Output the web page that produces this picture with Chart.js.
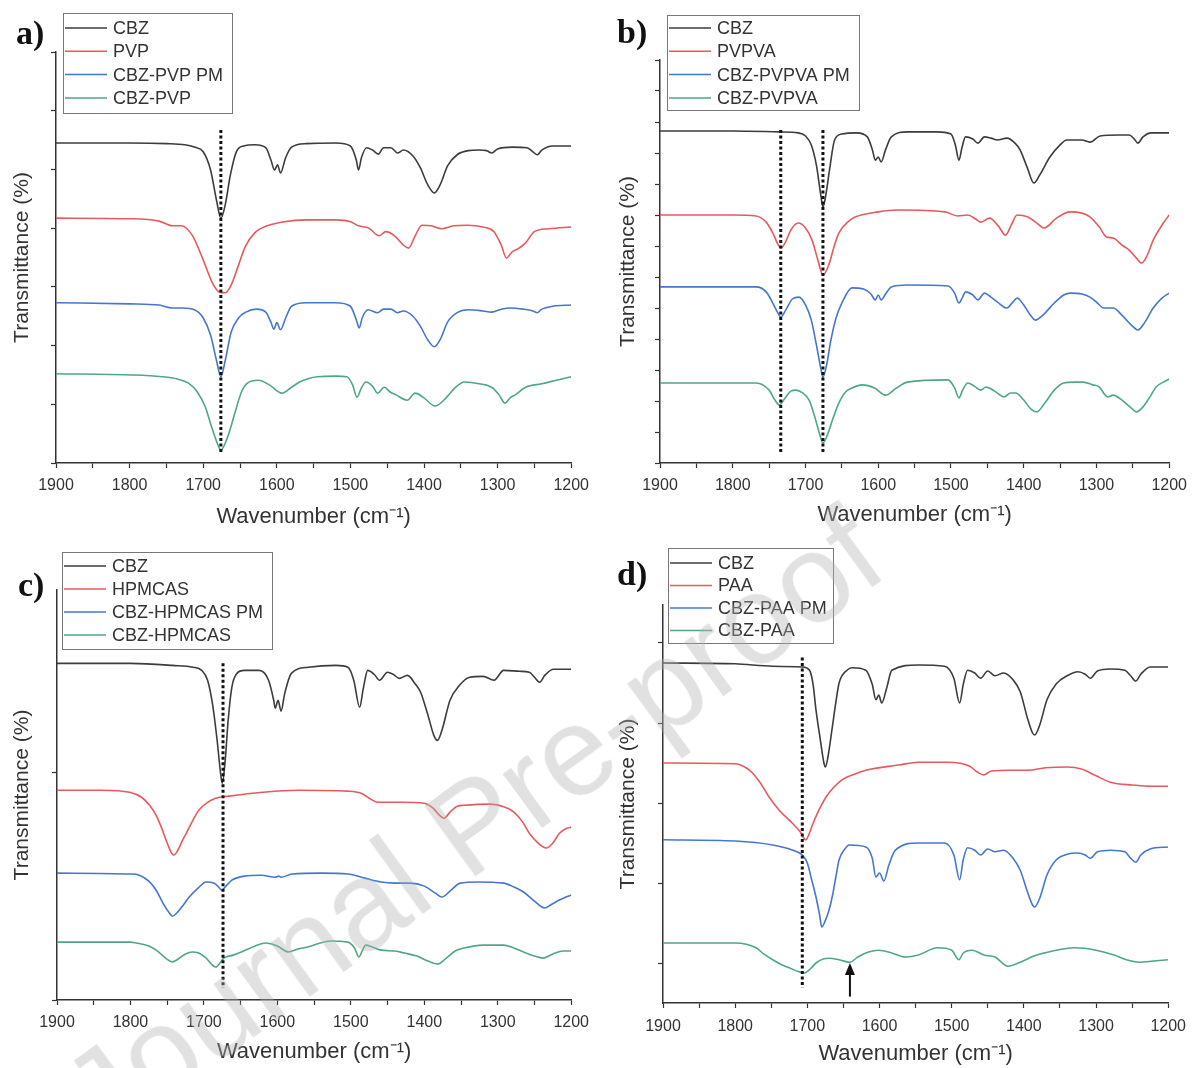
<!DOCTYPE html>
<html lang="en">
<head>
    <meta charset="UTF-8">
    <title>FTIR spectra - CBZ dispersions</title>
    <script src="https://cdn.jsdelivr.net/npm/chart.js"></script>
    <style>
        * {
            margin: 0;
            padding: 0;
            box-sizing: border-box;
        }
        body {
            background: #fff;
            width: 1195px;
            height: 1068px;
            overflow: hidden;
        }
        #wrap {
            position: relative;
            width: 1195px;
            height: 1068px;
        }
        canvas {
            position: absolute;
        }
        .mark {
            position: absolute;
            left: 473px;
            top: 825px;
            transform: translate(-50%, -50%) rotate(-36deg);
            font-family: 'Liberation Sans', Arial, sans-serif;
            font-size: 126px;
            line-height: 1;
            color: rgba(175, 175, 175, 0.38);
            white-space: nowrap;
            pointer-events: none;
        }
    </style>
</head>
<body>
<div id="wrap">
    <canvas id="pa" width="597" height="534" style="left:0;top:0"></canvas>
    <canvas id="pb" width="598" height="534" style="left:597px;top:0"></canvas>
    <canvas id="pc" width="597" height="534" style="left:0;top:534px"></canvas>
    <canvas id="pd" width="598" height="534" style="left:597px;top:534px"></canvas>
    <div class="mark">Journal Pre-proof</div>
</div>

<script>
// ---- data: [wavenumber, transmittance (a.u., offset)] ----
const namesA = ['CBZ', 'PVP', 'CBZ-PVP PM', 'CBZ-PVP'];
const namesB = ['CBZ', 'PVPVA', 'CBZ-PVPVA PM', 'CBZ-PVPVA'];
const namesC = ['CBZ', 'HPMCAS', 'CBZ-HPMCAS PM', 'CBZ-HPMCAS'];
const namesD = ['CBZ', 'PAA', 'CBZ-PAA PM', 'CBZ-PAA'];

// a) PVP
const aCBZ = [[1900,54.5],[1800,54.5],[1750,54.4],[1725,54.2],[1712,53.8],[1700,53.0],[1690,49.9],[1682,44.8],[1676,41.7],[1670,44.0],[1663,49.1],[1655,53.0],[1645,54.0],[1630,54.2],[1615,53.7],[1608,51.6],[1603,49.9],[1599,50.8],[1595,49.4],[1588,52.0],[1580,53.8],[1560,54.4],[1520,54.5],[1500,54.0],[1492,51.6],[1489,49.9],[1485,52.0],[1478,53.7],[1470,53.3],[1462,52.6],[1455,53.7],[1445,53.7],[1436,52.8],[1428,53.3],[1415,52.3],[1405,50.3],[1395,47.4],[1386,46.0],[1378,47.4],[1368,50.6],[1355,52.5],[1340,53.2],[1325,53.3],[1315,53.2],[1308,52.8],[1300,53.5],[1280,53.8],[1260,53.7],[1252,53.0],[1246,52.5],[1240,53.3],[1225,54.0],[1200,54.0]];
const aPVP = [[1900,41.7],[1800,41.6],[1760,41.2],[1742,40.4],[1730,40.4],[1715,38.8],[1700,34.6],[1688,30.8],[1678,29.1],[1670,29.0],[1662,30.3],[1652,33.7],[1643,36.8],[1630,39.2],[1613,40.4],[1590,41.1],[1560,41.4],[1520,41.4],[1500,41.1],[1489,40.4],[1475,40.0],[1461,38.7],[1452,39.4],[1440,38.7],[1428,37.1],[1421,36.6],[1412,38.7],[1403,40.5],[1390,40.4],[1376,39.9],[1360,40.4],[1341,40.5],[1320,40.2],[1305,39.4],[1295,37.1],[1288,34.9],[1280,36.0],[1272,36.5],[1262,37.5],[1250,39.4],[1230,39.9],[1200,40.2]];
const aPM = [[1900,27.3],[1800,27.1],[1760,26.9],[1742,26.4],[1728,26.4],[1712,26.1],[1700,24.7],[1690,21.8],[1682,17.5],[1676,14.7],[1670,17.5],[1662,22.3],[1652,24.7],[1642,25.7],[1628,26.2],[1615,25.7],[1608,24.0],[1604,22.8],[1600,23.9],[1595,22.7],[1588,24.7],[1580,26.7],[1560,27.3],[1520,27.3],[1500,26.7],[1492,24.4],[1488,23.0],[1484,24.7],[1476,26.1],[1463,25.6],[1455,26.2],[1445,26.2],[1436,25.6],[1428,25.9],[1415,25.0],[1405,23.3],[1395,21.0],[1386,19.8],[1378,21.0],[1368,24.0],[1355,25.6],[1340,26.1],[1320,25.9],[1308,25.7],[1295,26.2],[1282,26.4],[1265,26.2],[1252,25.9],[1246,25.6],[1240,26.2],[1225,26.7],[1200,26.9]];
const aSD = [[1900,15.2],[1800,15.0],[1756,14.7],[1735,14.3],[1720,13.6],[1708,12.1],[1697,9.5],[1688,5.9],[1680,3.1],[1676,2.2],[1670,3.4],[1663,5.9],[1657,8.5],[1648,12.1],[1640,13.6],[1625,14.1],[1610,13.3],[1593,11.9],[1580,12.9],[1569,13.8],[1545,14.7],[1520,14.8],[1505,14.7],[1497,13.3],[1491,11.2],[1485,12.8],[1479,13.8],[1470,13.1],[1463,11.9],[1454,12.9],[1446,12.1],[1438,11.6],[1423,10.7],[1412,11.9],[1400,11.1],[1385,9.7],[1370,11.1],[1358,12.8],[1345,13.8],[1325,13.5],[1308,12.9],[1298,11.6],[1290,10.2],[1283,11.1],[1276,11.6],[1262,12.9],[1240,13.5],[1220,14.1],[1200,14.7]];
const aGuides = [1676];
const aSpan = [56.7, 1.7];

// b) PVPVA
const bCBZ = [[1900,107.1],[1800,107.1],[1736,106.8],[1710,106.5],[1700,105.5],[1692,102.6],[1685,96.1],[1679,86.5],[1676,82.6],[1672,86.5],[1667,94.5],[1660,104.2],[1650,106.1],[1630,106.5],[1615,105.2],[1608,101.0],[1604,97.7],[1600,98.7],[1596,97.1],[1590,101.0],[1582,105.2],[1560,106.8],[1520,106.8],[1500,106.1],[1494,102.6],[1489,97.7],[1485,101.6],[1480,105.2],[1470,104.5],[1463,103.2],[1454,105.2],[1445,104.8],[1436,104.2],[1423,104.8],[1412,103.2],[1405,101.0],[1395,95.2],[1386,90.3],[1378,92.9],[1364,98.7],[1350,102.6],[1341,104.2],[1320,104.2],[1309,103.5],[1295,105.5],[1270,105.8],[1255,105.8],[1248,104.5],[1243,103.2],[1236,105.2],[1225,106.5],[1200,106.5]];
const bPVPVA = [[1900,80.0],[1800,80.0],[1768,79.7],[1754,77.7],[1745,74.2],[1738,70.6],[1734,69.4],[1728,71.0],[1720,75.2],[1710,77.4],[1700,75.8],[1691,71.9],[1683,65.5],[1676,60.6],[1668,63.9],[1660,70.3],[1654,74.2],[1640,78.1],[1631,79.4],[1600,81.0],[1573,81.6],[1508,81.0],[1491,79.7],[1477,80.0],[1466,78.7],[1459,77.7],[1447,79.0],[1435,76.5],[1425,73.5],[1417,76.8],[1409,80.0],[1395,79.4],[1382,77.4],[1372,75.8],[1355,79.0],[1336,81.0],[1320,80.6],[1309,79.4],[1296,76.1],[1286,72.9],[1277,72.6],[1265,70.3],[1255,68.7],[1245,66.1],[1238,64.5],[1230,67.1],[1222,71.9],[1208,77.4],[1200,80.0]];
const bPM = [[1900,56.8],[1800,56.8],[1768,56.8],[1754,55.2],[1745,51.6],[1738,48.4],[1734,47.1],[1727,49.4],[1718,52.9],[1709,53.5],[1700,51.0],[1692,46.1],[1685,38.1],[1679,30.6],[1676,27.7],[1671,31.6],[1665,39.7],[1658,46.8],[1650,51.6],[1636,56.5],[1620,56.1],[1610,54.5],[1604,52.6],[1600,54.2],[1596,52.6],[1590,54.5],[1582,56.8],[1560,57.4],[1504,57.1],[1495,54.8],[1489,51.6],[1484,53.5],[1480,55.2],[1470,54.2],[1463,52.6],[1454,54.8],[1445,53.5],[1436,51.9],[1423,50.0],[1415,51.9],[1409,53.2],[1400,51.0],[1392,48.1],[1384,46.1],[1375,47.4],[1358,51.6],[1345,54.2],[1336,54.8],[1320,54.5],[1309,53.5],[1300,51.9],[1290,50.0],[1277,50.0],[1265,47.7],[1252,44.5],[1243,42.9],[1234,45.2],[1222,50.0],[1210,53.2],[1200,54.8]];
const bSD = [[1900,25.8],[1800,25.8],[1768,25.8],[1750,23.5],[1742,20.3],[1736,18.7],[1728,21.0],[1720,23.2],[1713,23.5],[1704,22.6],[1695,20.3],[1688,15.5],[1681,9.7],[1676,6.5],[1670,9.0],[1662,14.5],[1654,19.4],[1645,22.9],[1636,24.2],[1622,25.2],[1605,24.2],[1590,21.9],[1575,24.2],[1560,26.1],[1504,26.8],[1495,24.2],[1489,21.0],[1484,23.5],[1477,25.8],[1468,24.8],[1459,23.5],[1452,24.5],[1440,23.2],[1427,21.3],[1418,22.6],[1411,22.6],[1400,20.3],[1390,17.4],[1382,16.5],[1372,19.0],[1358,23.5],[1345,25.8],[1330,26.1],[1318,26.1],[1305,25.2],[1296,24.5],[1288,21.9],[1284,21.3],[1277,21.9],[1265,20.3],[1252,17.7],[1245,16.5],[1236,18.1],[1225,21.9],[1218,24.5],[1208,26.1],[1200,27.1]];
const bGuides = [1734, 1676];
const bSpan = [107.4, 3.2];

// c) HPMCAS
const cCBZ = [[1900,147.8],[1800,147.8],[1743,146.9],[1715,146.1],[1703,144.7],[1695,140.4],[1688,129.4],[1682,114.0],[1677,98.7],[1675,95.2],[1671,105.3],[1667,122.8],[1662,137.3],[1655,143.4],[1645,144.7],[1625,144.7],[1612,140.4],[1605,131.6],[1603,128.1],[1599,131.6],[1595,126.8],[1590,134.6],[1581,143.4],[1558,146.1],[1520,146.9],[1504,146.1],[1496,140.4],[1488,128.5],[1483,136.8],[1477,144.7],[1468,142.9],[1461,140.4],[1450,143.9],[1442,142.9],[1434,141.2],[1423,142.5],[1412,138.6],[1405,135.1],[1395,125.0],[1387,116.2],[1382,114.0],[1376,118.4],[1365,131.6],[1352,138.2],[1338,141.7],[1320,142.1],[1305,140.4],[1292,144.7],[1270,144.3],[1257,143.9],[1250,141.7],[1243,139.5],[1236,142.5],[1224,145.2],[1200,145.2]];
const cHPMCAS = [[1900,92.1],[1840,92.1],[1801,91.2],[1785,89.0],[1774,85.5],[1765,81.1],[1758,75.9],[1750,68.9],[1744,64.5],[1741,63.6],[1736,65.4],[1729,70.2],[1724,73.2],[1715,78.9],[1707,83.3],[1695,86.8],[1684,88.6],[1666,89.5],[1620,91.2],[1572,92.1],[1504,91.7],[1486,90.8],[1475,88.6],[1464,86.8],[1445,86.8],[1432,86.8],[1400,86.4],[1388,84.2],[1378,80.7],[1373,79.8],[1365,82.5],[1355,85.1],[1346,85.5],[1311,86.0],[1290,84.6],[1278,82.5],[1266,78.1],[1257,73.2],[1245,68.9],[1234,66.7],[1225,68.9],[1216,73.2],[1206,75.4],[1200,75.9]];
const cPM = [[1900,55.7],[1800,55.3],[1788,54.8],[1775,52.2],[1765,48.2],[1755,42.1],[1747,38.2],[1743,36.8],[1737,38.2],[1728,41.7],[1720,45.2],[1708,49.1],[1697,51.8],[1686,51.3],[1680,49.6],[1676,48.2],[1670,50.0],[1662,52.6],[1645,54.4],[1622,54.8],[1603,53.9],[1598,54.4],[1595,53.9],[1580,55.3],[1540,55.7],[1504,55.3],[1481,53.5],[1459,51.8],[1440,51.3],[1419,51.3],[1400,50.0],[1385,46.9],[1376,45.2],[1365,47.8],[1351,51.3],[1328,51.8],[1292,51.3],[1278,49.6],[1265,47.4],[1250,43.4],[1240,40.8],[1236,40.4],[1228,41.7],[1216,43.9],[1200,46.1]];
const cSD = [[1900,25.4],[1800,25.4],[1792,25.0],[1775,23.7],[1765,21.9],[1752,18.4],[1743,16.7],[1735,18.0],[1725,20.2],[1716,21.1],[1707,20.6],[1697,18.4],[1690,15.8],[1684,14.5],[1677,16.7],[1673,18.4],[1660,19.7],[1649,21.1],[1630,23.7],[1616,25.0],[1600,23.7],[1585,21.1],[1572,22.4],[1560,23.2],[1527,25.9],[1504,25.4],[1495,22.8],[1489,18.9],[1484,21.9],[1480,24.1],[1470,23.2],[1459,21.9],[1440,21.5],[1427,20.6],[1410,19.3],[1395,17.1],[1382,15.8],[1370,18.4],[1358,21.5],[1346,22.8],[1320,24.1],[1292,24.1],[1278,22.8],[1265,21.1],[1250,19.3],[1238,18.4],[1225,20.2],[1211,21.5],[1200,21.5]];
const cGuides = [1674];
const cSpan = [147.8, 5.3];

// d) PAA
const dCBZ = [[1900,37.5],[1800,37.4],[1748,37.1],[1707,37.0],[1697,36.6],[1692,34.8],[1688,31.6],[1682,27.9],[1677,25.0],[1675,24.5],[1671,26.0],[1666,29.1],[1660,32.9],[1656,35.0],[1645,36.6],[1638,36.9],[1619,36.6],[1610,34.8],[1605,32.9],[1601,33.5],[1597,32.5],[1590,34.4],[1583,36.6],[1546,37.25],[1510,37.1],[1497,35.6],[1489,32.5],[1484,34.8],[1478,36.6],[1468,36.25],[1460,35.6],[1450,36.5],[1440,35.9],[1428,36.25],[1415,35.4],[1405,33.9],[1395,30.6],[1388,28.75],[1385,28.5],[1378,29.75],[1368,32.9],[1355,34.9],[1340,35.9],[1325,36.4],[1315,36.1],[1308,35.6],[1298,36.5],[1280,36.75],[1260,36.6],[1252,35.9],[1245,35.25],[1238,36.1],[1225,37.0],[1200,37.0]];
const dPAA = [[1900,25.0],[1800,24.9],[1785,24.4],[1776,23.75],[1765,22.5],[1753,20.75],[1739,19.1],[1721,17.5],[1710,16.4],[1702,15.4],[1697,16.25],[1693,17.25],[1684,19.1],[1674,20.75],[1663,22.0],[1652,22.9],[1635,23.6],[1619,24.1],[1573,24.75],[1546,25.1],[1505,25.1],[1475,24.6],[1465,23.9],[1456,23.5],[1445,24.0],[1420,24.1],[1395,24.1],[1370,24.4],[1340,24.5],[1320,24.25],[1300,23.4],[1280,22.6],[1250,22.25],[1220,22.1],[1200,22.1]];
const dPM = [[1900,15.4],[1800,15.25],[1748,14.75],[1720,14.1],[1707,13.5],[1700,12.5],[1694,10.4],[1688,8.25],[1683,6.0],[1680,4.5],[1676,5.1],[1670,6.6],[1665,8.5],[1660,11.0],[1656,12.9],[1648,14.25],[1642,14.75],[1619,14.5],[1610,13.1],[1605,10.75],[1600,11.25],[1594,10.25],[1587,12.25],[1578,14.1],[1546,15.0],[1510,15.0],[1497,13.5],[1489,10.4],[1484,12.9],[1478,14.4],[1468,14.1],[1460,13.5],[1450,14.25],[1440,13.9],[1428,14.1],[1415,13.1],[1405,11.6],[1395,8.9],[1388,7.25],[1385,7.0],[1378,8.1],[1368,11.0],[1355,12.9],[1340,13.6],[1325,13.75],[1315,13.5],[1308,13.1],[1298,13.9],[1280,14.1],[1260,13.9],[1252,13.1],[1245,12.6],[1238,13.5],[1225,14.25],[1200,14.5]];
const dSD = [[1900,2.5],[1800,2.5],[1771,1.9],[1760,1.1],[1748,0.4],[1735,-0.25],[1725,-0.6],[1712,-1.1],[1704,-1.25],[1696,-0.75],[1688,0.0],[1678,0.5],[1670,0.6],[1656,0.4],[1641,0.1],[1630,0.75],[1619,1.25],[1601,1.6],[1583,1.25],[1564,0.75],[1546,1.0],[1520,1.9],[1500,1.6],[1490,0.4],[1484,1.25],[1472,1.6],[1455,1.0],[1440,0.75],[1422,-0.4],[1405,0.1],[1385,0.9],[1360,1.5],[1330,1.9],[1300,1.6],[1275,1.0],[1258,0.4],[1240,0.1],[1220,0.25],[1200,0.4]];
const dGuides = [1707];
const dSpan = [38.2, -3.1];
const dArrow = [1641, -4.2, 0];   // wavenumber, tail, tip

const colors = ['#3c3c3c', '#e65a5e', '#4676cf', '#4fa784'];

// ---- plugins ----
const boxLegend = {
    id: 'boxLegend',
    afterDraw(chart, args, o) {
        const ctx = chart.ctx;
        ctx.save();
        ctx.strokeStyle = '#777';
        ctx.lineWidth = 1;
        ctx.strokeRect(o.x + 0.5, o.y + 0.5, o.w, o.h);
        ctx.font = "18px 'Liberation Sans', Arial, sans-serif";
        ctx.textBaseline = 'middle';
        chart.data.datasets.filter(d => !d.guide).forEach((d, i) => {
            const y = o.row0 + i * o.gap;
            ctx.strokeStyle = d.borderColor;
            ctx.lineWidth = 1.5;
            ctx.beginPath();
            ctx.moveTo(o.x + 2, y);
            ctx.lineTo(o.x + 44, y);
            ctx.stroke();
            ctx.fillStyle = '#333';
            ctx.fillText(d.label, o.x + 50, y + 1);
        });
        ctx.font = "bold 34px 'Liberation Serif', 'Times New Roman', serif";
        ctx.textBaseline = 'alphabetic';
        ctx.fillStyle = '#111';
        ctx.fillText(o.tag, o.tagX, o.tagY);
        ctx.restore();
    }
};

const arrowMark = {
    id: 'arrowMark',
    afterDatasetsDraw(chart, args, o) {
        if (!o.at) return;
        const {x, y} = chart.scales;
        const px = x.getPixelForValue(o.at[0]);
        const y0 = y.getPixelForValue(o.at[1]);
        const y1 = y.getPixelForValue(o.at[2]);
        const ctx = chart.ctx;
        ctx.save();
        ctx.strokeStyle = '#111';
        ctx.fillStyle = '#111';
        ctx.lineWidth = 2;
        ctx.beginPath();
        ctx.moveTo(px, y0);
        ctx.lineTo(px, y1 + 10);
        ctx.stroke();
        ctx.beginPath();
        ctx.moveTo(px, y1);
        ctx.lineTo(px - 5, y1 + 12);
        ctx.lineTo(px + 5, y1 + 12);
        ctx.closePath();
        ctx.fill();
        ctx.restore();
    }
};

// ---- panels ----
const panels = [
    {id: 'pa', series: [aCBZ, aPVP, aPM, aSD], names: namesA, guides: aGuides, span: aSpan,
     yMin: 0, yMax: 70, yStep: 10, pad: {top: 52, right: 19}, yW: 56, xH: 71, yTitlePad: 10, xTitlePad: 4, tickPad: 8,
     legend: {x: 63, y: 13, w: 169, h: 100, row0: 28, gap: 23.3, tag: 'a)', tagX: 16, tagY: 44}},
    {id: 'pb', series: [bCBZ, bPVPVA, bPM, bSD], names: namesB, guides: bGuides, span: bSpan,
     yMin: 0, yMax: 130, yStep: 10, pad: {top: 60, right: 22}, yW: 63, xH: 71, yTitlePad: 19, xTitlePad: 6, tickPad: 8,
     legend: {x: 70, y: 15, w: 192, h: 95, row0: 28, gap: 23.3, tag: 'b)', tagX: 20, tagY: 43}},
    {id: 'pc', series: [cCBZ, cHPMCAS, cPM, cSD], names: namesC, guides: cGuides, span: cSpan,
     yMin: 0, yMax: 180, yStep: 100, pad: {top: 56, right: 22}, yW: 57, xH: 68, yTitlePad: 10, xTitlePad: 3, tickPad: 8,
     legend: {x: 62, y: 18, w: 210, h: 97, row0: 32, gap: 23, tag: 'c)', tagX: 18, tagY: 62}},
    {id: 'pd', series: [dCBZ, dPAA, dPM, dSD], names: namesD, guides: dGuides, span: dSpan, arrow: dArrow,
     yMin: -5, yMax: 44.75, yStep: 10, pad: {top: 71, right: 24}, yW: 66, xH: 65, yTitlePad: 19, xTitlePad: 1, tickPad: 9,
     legend: {x: 71, y: 14, w: 165, h: 95, row0: 29, gap: 22.5, tag: 'd)', tagX: 20, tagY: 51}}
];

panels.forEach(p => {
    const datasets = p.series.map((s, i) => ({
        label: p.names[i],
        data: s.map(([x, y]) => ({x, y})),
        borderColor: colors[i],
        borderWidth: 1.6,
        pointRadius: 0,
        fill: false,
        cubicInterpolationMode: 'monotone'
    }));
    p.guides.forEach(g => datasets.push({
        guide: true,
        label: '',
        data: [{x: g, y: p.span[0]}, {x: g, y: p.span[1]}],
        borderColor: '#111',
        borderWidth: 3,
        borderDash: [3, 2.5],
        pointRadius: 0,
        tension: 0,
        order: -1
    }));

    const axisStyle = {
        grid: {drawOnChartArea: false, drawTicks: true, tickLength: 5, color: '#333', tickWidth: 1.2},
        border: {color: '#333', width: 1.5}
    };

    new Chart(document.getElementById(p.id), {
        type: 'line',
        data: {datasets},
        options: {
            responsive: false,
            animation: false,
            layout: {padding: {top: p.pad.top, right: p.pad.right, left: 0, bottom: 0}},
            plugins: {
                legend: {display: false},
                tooltip: {enabled: false},
                boxLegend: p.legend,
                arrowMark: {at: p.arrow}
            },
            scales: {
                x: {
                    type: 'linear', reverse: true, min: 1200, max: 1900,
                    ticks: {
                        stepSize: 50, autoSkip: false, maxRotation: 0, padding: p.tickPad,
                        color: '#333', font: {size: 16},
                        callback: v => (v % 100 === 0 ? v : '')
                    },
                    ...axisStyle,
                    title: {display: true, text: 'Wavenumber (cm⁻¹)', color: '#333', font: {size: 22},
                            padding: {top: 0, bottom: p.xTitlePad}},
                    afterFit: s => { s.height = p.xH; }
                },
                y: {
                    type: 'linear', min: p.yMin, max: p.yMax,
                    ticks: {stepSize: p.yStep, includeBounds: false, callback: () => ''},
                    ...axisStyle,
                    title: {display: true, text: 'Transmittance (%)', color: '#333', font: {size: 21},
                            padding: {top: p.yTitlePad, bottom: 0}},
                    afterFit: s => { s.width = p.yW; }
                }
            }
        },
        plugins: [boxLegend, arrowMark]
    });
});
</script>
</body>
</html>
